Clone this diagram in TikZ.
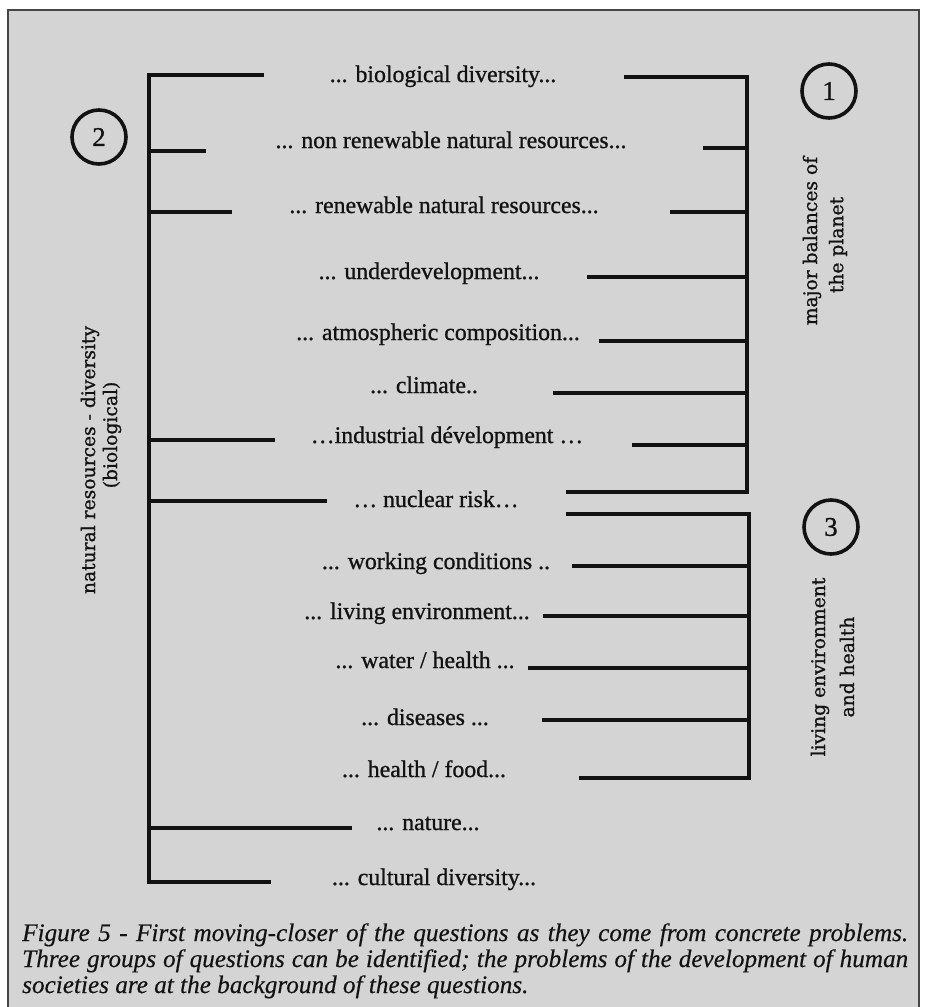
\documentclass[tikz,border=0pt]{standalone}
\usepackage{fontspec}
\setmainfont{Liberation Serif}
\newfontfamily\listfont[FakeBold=0.9]{Liberation Serif}
\newfontfamily\sidefont[FakeBold=1.0]{DejaVu Serif}
\newfontfamily\capfont[FakeBold=0.4]{Liberation Serif}
\definecolor{paper}{RGB}{212,212,212}
\definecolor{ink}{RGB}{18,18,18}
\definecolor{rule}{RGB}{70,70,70}
\tikzset{
  bracket/.style={draw=ink, line width=4.6pt, line join=miter, line cap=butt},
  tick/.style={draw=ink, line width=4.6pt, line cap=butt},
  item/.style={anchor=base, inner sep=0pt, text=ink, font=\listfont\fontsize{23.8}{28}\selectfont},
  side/.style={rotate=90, inner sep=0pt, text=ink, font=\sidefont\fontsize{18.7}{22}\selectfont},
  num/.style={circle, draw=ink, line width=3.6pt, minimum size=54pt, inner sep=0pt,
              text=ink, font=\listfont\fontsize{27}{28}\selectfont},
  captionline/.style={anchor=base west, inner sep=0pt, text=ink,
              font=\capfont\itshape\fontsize{25.2}{26}\selectfont}
}
\begin{document}
\begin{tikzpicture}[x=1pt, y=-1pt]
\useasboundingbox (0,0) rectangle (925,1007);
\fill[white] (0,0) rectangle (925,1007);
\begin{scope}
  \clip (0,0) rectangle (925,1007);
  \draw[rule, line width=1.6pt, fill=paper] (8,10) rectangle (919,1030);
\end{scope}

% question labels
\node[item] (bio)   at (443,82)  {... biological diversity...};
\node[item] (nonren) at (451,148) {... non renewable natural resources...};
\node[item] (ren)   at (444,213) {... renewable natural resources...};
\node[item] (under) at (429,279) {... underdevelopment...};
\node[item] (atmo)  at (438,340) {... atmospheric composition...};
\node[item] (clim)  at (424,393) {... climate..};
\node[item] (indus) at (447,443) {…industrial dévelopment …};
\node[item] (nucl)  at (436,507) {… nuclear risk…};
\node[item] (work)  at (436,569) {... working conditions ..};
\node[item] (live)  at (417,619) {... living environment...};
\node[item] (water) at (425,668) {... water / health ...};
\node[item] (dis)   at (425,725) {... diseases ...};
\node[item] (food)  at (424,777) {... health / food...};
\node[item] (nat)   at (428,830) {... nature...};
\node[item] (cult)  at (434,885) {... cultural diversity...};

% left bracket: natural resources
\coordinate (L1) at (264,75);
\coordinate (L2) at (149,75);
\coordinate (L3) at (149,882);
\coordinate (L4) at (271,882);
\draw[bracket] (L1) -- (L2) -- (L3) -- (L4);
\coordinate (Lnonren) at (206,151);
\coordinate (Lren)    at (232,212);
\coordinate (Lindus)  at (275,440);
\coordinate (Lnucl)   at (327,501);
\coordinate (Lnat)    at (352,828);
\foreach \e in {Lnonren,Lren,Lindus,Lnucl,Lnat}
  \draw[tick] (\e) -- (\e -| L2);

% right bracket: major balances of the planet
\coordinate (A1) at (624,77);
\coordinate (A2) at (747,77);
\coordinate (A3) at (747,492);
\coordinate (A4) at (566,492);
\draw[bracket] (A1) -- (A2) -- (A3) -- (A4);
\coordinate (Anonren) at (703,148);
\coordinate (Aren)    at (670,212);
\coordinate (Aunder)  at (587,277);
\coordinate (Aatmo)   at (599,341);
\coordinate (Aclim)   at (553,393);
\coordinate (Aindus)  at (632,445);
\foreach \e in {Anonren,Aren,Aunder,Aatmo,Aclim,Aindus}
  \draw[tick] (\e) -- (\e -| A2);

% right bracket: living environment and health
\coordinate (B1) at (566,514);
\coordinate (B2) at (749,514);
\coordinate (B3) at (749,778);
\coordinate (B4) at (579,778);
\draw[bracket] (B1) -- (B2) -- (B3) -- (B4);
\coordinate (Bwork)  at (572,566);
\coordinate (Blive)  at (543,616);
\coordinate (Bwater) at (528,668);
\coordinate (Bdis)   at (542,720);
\foreach \e in {Bwork,Blive,Bwater,Bdis}
  \draw[tick] (\e) -- (\e -| B2);

% group numbers
\node[num] (n1) at (829,91)  {1};
\node[num] (n2) at (99,137)  {2};
\node[num] (n3) at (831,527) {3};

% group titles
\node[side] (g2a) at (90,460)  {natural resources - diversity};
\node[side] (g2b) at (112,435) {(biological)};
\node[side] (g1a) at (812,241) {major balances of};
\node[side] (g1b) at (838,245) {the planet};
\node[side] (g3a) at (820,667) {living environment};
\node[side] (g3b) at (847,667) {and health};

% caption
\node[captionline] (cap1) at (22,941) {\makebox[886pt][s]{Figure 5 - First moving-closer of the questions as they come from concrete problems.}};
\node[captionline] (cap2) at (22,967) {\makebox[886pt][s]{Three groups of questions can be identified; the problems of the development of human}};
\node[captionline] (cap3) at (22,993) {societies are at the background of these questions.};
\end{tikzpicture}
\end{document}
